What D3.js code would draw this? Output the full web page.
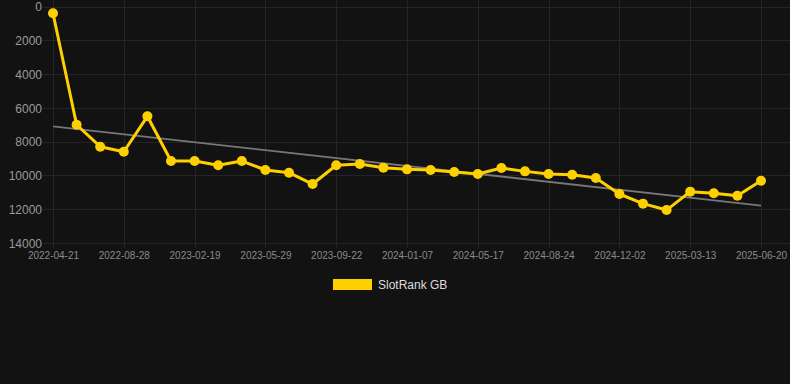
<!DOCTYPE html>
<html><head><meta charset="utf-8">
<script src="https://cdn.jsdelivr.net/npm/d3@7"></script>
<style>
html,body{margin:0;padding:0;background:#121212;}
svg{display:block;font-family:Arial,"Liberation Sans",sans-serif;}
</style></head>
<body>
<svg id="chart" width="790" height="384"></svg>
<script>
const dates = ["2022-04-21","2022-06-03","2022-07-16","2022-08-28","2022-10-26","2022-12-23","2023-02-19","2023-03-24","2023-04-26","2023-05-29","2023-07-07","2023-08-15","2023-09-22","2023-10-30","2023-12-01","2024-01-07","2024-02-21","2024-04-02","2024-05-17","2024-06-19","2024-07-22","2024-08-24","2024-09-26","2024-10-30","2024-12-02","2025-01-03","2025-02-08","2025-03-13","2025-04-14","2025-05-17","2025-06-20"];
const ranks = [400,7000,8300,8600,6500,9150,9150,9400,9150,9680,9840,10510,9400,9325,9540,9640,9680,9800,9920,9560,9760,9920,9960,10150,11100,11670,12050,10960,11060,11200,10310];
const yTicks = [0,2000,4000,6000,8000,10000,12000,14000];
const seriesName = "SlotRank GB";

const svg = d3.select("#chart");
const m = {left:53, right:761, top:6.5, bottom:243};

const x = d3.scalePoint().domain(dates).range([m.left, m.right]);
const y = d3.scaleLinear().domain([0,14000]).range([m.top, m.bottom]);

// grid
const labelDates = dates.filter((d,i)=>i%3===0);
svg.append("g").selectAll("line").data(yTicks).join("line")
  .attr("x1", m.left-10).attr("x2", 790)
  .attr("y1", d=>Math.round(y(d))+0.5).attr("y2", d=>Math.round(y(d))+0.5)
  .attr("stroke","#242424").attr("stroke-width",1);
svg.append("g").selectAll("line").data(labelDates).join("line")
  .attr("x1", d=>Math.round(x(d))+0.5).attr("x2", d=>Math.round(x(d))+0.5)
  .attr("y1", 0).attr("y2", m.bottom+5)
  .attr("stroke","#242424").attr("stroke-width",1);

// y axis labels
const yAxis = d3.axisLeft(y).tickValues(yTicks).tickSize(0).tickPadding(0).tickFormat(d=>String(d));
const gy = svg.append("g").attr("transform",`translate(${m.left-11},0)`).call(yAxis);
gy.select(".domain").remove();
gy.selectAll("text").attr("fill","#9a9a9a").style("font-size","12px").attr("dy","0.35em");

// x axis labels
const xAxis = d3.axisBottom(x).tickValues(labelDates).tickSize(0).tickPadding(0);
const gx = svg.append("g").attr("transform",`translate(0,${m.bottom+16})`).call(xAxis);
gx.select(".domain").remove();
gx.selectAll("text").attr("fill","#8a8a8a").style("font-size","10px").attr("dy","0");

// trend line (least squares over index)
const n = ranks.length;
const xs = d3.range(n);
const mx = d3.mean(xs), my = d3.mean(ranks);
const slope = d3.sum(xs,(i)=>(i-mx)*(ranks[i]-my)) / d3.sum(xs,i=>(i-mx)*(i-mx));
const icpt = my - slope*mx;
svg.append("line")
  .attr("x1", x(dates[0])).attr("y1", y(icpt))
  .attr("x2", x(dates[n-1])).attr("y2", y(icpt+slope*(n-1)))
  .attr("stroke","#777").attr("stroke-width",1.8);

// series line
const line = d3.line().x((d,i)=>x(dates[i])).y(d=>y(d));
svg.append("path").datum(ranks).attr("d",line)
  .attr("fill","none").attr("stroke","#FFD000").attr("stroke-width",3).attr("stroke-linejoin","round");
svg.append("g").selectAll("circle").data(ranks).join("circle")
  .attr("cx",(d,i)=>x(dates[i])).attr("cy",d=>y(d)).attr("r",5)
  .attr("fill","#FFD000");

// legend
const lg = svg.append("g");
lg.append("rect").attr("x",333).attr("y",279).attr("width",39).attr("height",11).attr("fill","#FFD000");
lg.append("text").attr("x",378).attr("y",289).text(seriesName)
  .attr("fill","#dddddd").style("font-size","12px");
</script>
</body></html>
